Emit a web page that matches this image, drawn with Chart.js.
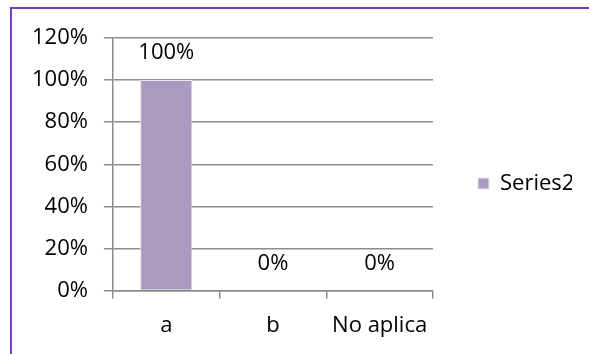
<!DOCTYPE html>
<html><head><meta charset="utf-8">
<script src="https://cdn.jsdelivr.net/npm/chart.js@4/dist/chart.umd.min.js"></script>
<style>html,body{margin:0;padding:0;background:#fff;}#wrap{width:589px;height:354px;position:relative;}</style>
</head><body><div id="wrap"><canvas id="c" width="589" height="354"></canvas></div>
<script>
const categories = ["a", "b", "No aplica"];
const seriesName = "Series2";
const seriesValues = [1.0, 0.0, 0.0];
const yTicks = [0, 0.2, 0.4, 0.6, 0.8, 1.0, 1.2];

const FONT = "'Open Sans', 'Liberation Sans', sans-serif";
const FS = 22;

const frame = {
  id: 'frame',
  afterDraw(chart) {
    const ctx = chart.ctx;
    ctx.save();
    ctx.strokeStyle = '#7a3fbf';
    ctx.lineWidth = 2;
    ctx.beginPath();
    ctx.moveTo(11, 354);
    ctx.lineTo(11, 8);
    ctx.lineTo(589, 8);
    ctx.stroke();
    ctx.restore();
  }
};

const dataLabels = {
  id: 'dataLabels',
  afterDatasetsDraw(chart) {
    const ctx = chart.ctx;
    const meta = chart.getDatasetMeta(0);
    ctx.save();
    ctx.font = FS + "px " + FONT;
    ctx.fillStyle = '#000';
    ctx.textAlign = 'center';
    ctx.textBaseline = 'middle';
    meta.data.forEach((bar, i) => {
      const v = chart.data.datasets[0].data[i];
      ctx.fillText(Math.round(v * 100) + '%', bar.x, bar.y - 27);
    });
    ctx.restore();
  }
};

new Chart(document.getElementById('c'), {
  type: 'bar',
  data: {
    labels: categories,
    datasets: [{
      label: seriesName,
      data: seriesValues,
      backgroundColor: '#a99bc0',
      borderColor: '#e9e6ee',
      borderWidth: 1,
      categoryPercentage: 1.0,
      barPercentage: 0.49
    }]
  },
  options: {
    responsive: false,
    animation: false,
    devicePixelRatio: 1,
    layout: { padding: { left: 16, top: 14, right: 17, bottom: 1 } },
    plugins: {
      legend: {
        position: 'right',
        labels: {
          boxWidth: 11, boxHeight: 11, padding: 45,
          color: '#000',
          font: { family: FONT, size: FS }
        }
      },
      tooltip: { enabled: false }
    },
    scales: {
      y: {
        min: 0, max: 1.2,
        afterBuildTicks(axis) { axis.ticks = yTicks.map(v => ({ value: v })); },
        ticks: {
          color: '#000', padding: 16,
          font: { family: FONT, size: FS },
          callback: v => Math.round(v * 100) + '%'
        },
        grid: { color: '#8c8c8c', lineWidth: 1.5, tickLength: 9 },
        border: { color: '#8c8c8c', width: 1.5 }
      },
      x: {
        ticks: { color: '#000', padding: 14, font: { family: FONT, size: FS } },
        grid: { drawOnChartArea: false, color: '#8c8c8c', lineWidth: 1.5, tickLength: 8 },
        border: { color: '#8c8c8c', width: 1.5 }
      },
      xTop: {
        type: 'category',
        axis: 'x',
        position: 'top',
        display: true,
        ticks: { display: false },
        grid: { display: false, drawTicks: false },
        border: { display: false },
        afterFit(s) { s.height = 24; }
      }
    }
  },
  plugins: [frame, dataLabels]
});
</script></body></html>
